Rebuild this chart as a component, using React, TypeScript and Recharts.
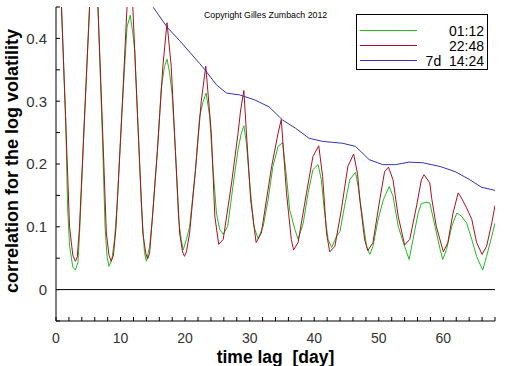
import React from 'react';
import { LineChart, Line, XAxis, YAxis, ReferenceLine } from 'recharts';

const greenLag = [0.3, 0.85, 1.5, 1.8, 2.1, 2.6, 3.0, 3.4, 3.7, 4.4, 5.2, 5.8, 6.5, 7.2, 7.6, 7.9, 8.2, 8.65, 9.07, 9.5, 10.2, 11.0, 11.5, 11.9, 12.2, 12.7, 13.2, 13.7, 14.0, 14.5, 14.9, 15.7, 16.3, 16.8, 17.2, 17.6, 18.0, 18.5, 19.0, 19.4, 19.7, 20.2, 20.7, 21.6, 22.25, 22.8, 23.25, 23.8, 24.3, 24.85, 25.35, 25.9, 26.6, 27.4, 28.2, 28.7, 29.1, 29.5, 30.0, 30.65, 31.3, 32.1, 32.85, 33.6, 34.4, 35.1, 35.7, 36.2, 37.0, 37.5, 38.3, 39.05, 39.8, 40.6, 41.1, 41.6, 42.15, 42.7, 43.45, 44.0, 44.7, 45.5, 46.4, 46.8, 47.6, 48.1, 48.6, 49.1, 49.9, 50.7, 51.6, 52.2, 53.0, 53.8, 54.7, 55.3, 56.1, 56.6, 57.3, 57.9, 58.7, 59.5, 59.9, 60.5, 61.3, 62.1, 62.8, 63.6, 64.4, 65.15, 66.1, 66.7, 67.5, 68.0];
const greenVal = [0.62, 0.45, 0.27, 0.13, 0.07, 0.036, 0.031, 0.043, 0.10, 0.27, 0.45, 0.53, 0.45, 0.24, 0.10, 0.053, 0.037, 0.048, 0.08, 0.14, 0.28, 0.418, 0.437, 0.408, 0.38, 0.26, 0.14, 0.059, 0.045, 0.069, 0.11, 0.22, 0.32, 0.355, 0.367, 0.345, 0.31, 0.22, 0.11, 0.08, 0.063, 0.08, 0.10, 0.19, 0.276, 0.30, 0.313, 0.276, 0.196, 0.122, 0.096, 0.088, 0.101, 0.164, 0.223, 0.249, 0.261, 0.233, 0.17, 0.101, 0.081, 0.101, 0.143, 0.196, 0.228, 0.234, 0.18, 0.127, 0.096, 0.08, 0.106, 0.154, 0.191, 0.199, 0.175, 0.122, 0.08, 0.067, 0.085, 0.093, 0.133, 0.175, 0.187, 0.164, 0.106, 0.069, 0.056, 0.069, 0.112, 0.143, 0.164, 0.149, 0.101, 0.075, 0.048, 0.08, 0.122, 0.137, 0.139, 0.138, 0.101, 0.064, 0.048, 0.064, 0.101, 0.122, 0.117, 0.106, 0.08, 0.053, 0.031, 0.053, 0.085, 0.106];

const redLag = [0.3, 0.85, 1.5, 2.1, 2.6, 3.0, 3.3, 3.64, 4.4, 5.2, 5.85, 6.5, 7.2, 7.8, 8.2, 8.55, 8.9, 9.3, 10.2, 11.0, 11.45, 11.9, 12.7, 13.45, 13.9, 14.2, 14.5, 14.75, 15.7, 16.55, 17.2, 17.85, 18.5, 19.15, 19.6, 19.9, 20.2, 20.7, 21.6, 22.5, 23.2, 24.06, 24.6, 25.2, 25.9, 27.2, 28.2, 28.6, 29.1, 29.5, 30.15, 31.0, 31.8, 33.4, 34.4, 34.9, 35.7, 36.45, 36.8, 37.5, 38.8, 39.8, 40.7, 41.3, 41.9, 42.4, 43.2, 44.2, 45.2, 46.1, 46.7, 47.1, 47.8, 48.3, 49.1, 50.15, 50.9, 51.5, 52.2, 53.0, 54.0, 54.8, 55.85, 56.6, 57.0, 57.9, 58.2, 58.9, 60.0, 60.7, 61.5, 62.3, 62.8, 63.6, 64.4, 65.15, 66.0, 66.7, 67.5, 68.0];
const redVal = [0.62, 0.45, 0.27, 0.10, 0.055, 0.045, 0.052, 0.10, 0.27, 0.45, 0.56, 0.45, 0.26, 0.09, 0.055, 0.045, 0.055, 0.10, 0.28, 0.45, 0.49, 0.45, 0.26, 0.09, 0.058, 0.049, 0.058, 0.09, 0.22, 0.355, 0.425, 0.355, 0.22, 0.09, 0.06, 0.053, 0.06, 0.09, 0.19, 0.30, 0.356, 0.249, 0.117, 0.072, 0.08, 0.17, 0.249, 0.286, 0.317, 0.249, 0.143, 0.075, 0.09, 0.196, 0.249, 0.271, 0.154, 0.08, 0.063, 0.075, 0.154, 0.212, 0.229, 0.18, 0.09, 0.06, 0.069, 0.127, 0.196, 0.216, 0.185, 0.14, 0.08, 0.062, 0.075, 0.143, 0.188, 0.195, 0.175, 0.117, 0.071, 0.08, 0.133, 0.175, 0.183, 0.17, 0.145, 0.101, 0.06, 0.075, 0.122, 0.154, 0.146, 0.13, 0.112, 0.075, 0.056, 0.069, 0.106, 0.134];

const blueLag = [14.3, 15.1, 17.2, 19.1, 22.25, 23.0, 24.85, 26.4, 28.45, 30.8, 33.0, 35.1, 37.1, 39.2, 41.3, 44.4, 46.4, 48.5, 50.6, 52.6, 54.7, 56.8, 59.5, 61.8, 64.1, 65.9, 68.0];
const blueVal = [0.462, 0.449, 0.418, 0.397, 0.36, 0.351, 0.326, 0.313, 0.31, 0.302, 0.291, 0.27, 0.257, 0.241, 0.236, 0.233, 0.228, 0.207, 0.199, 0.199, 0.203, 0.202, 0.196, 0.188, 0.175, 0.163, 0.158];

const seriesNames = ['01:12', '22:48', '7d\u00a0\u00a014:24'];
const seriesColors = ['#22bb22', '#aa1122', '#3333bb'];

const xTicks = [0, 2, 4, 6, 8, 10, 12, 14, 16, 18, 20, 22, 24, 26, 28, 30, 32, 34, 36, 38, 40, 42, 44, 46, 48, 50, 52, 54, 56, 58, 60, 62, 64, 66, 68];
const xLabelTicks = [0, 10, 20, 30, 40, 50, 60];
const yTicks = [-0.05, 0, 0.05, 0.1, 0.15, 0.2, 0.25, 0.3, 0.35, 0.4, 0.45];
const yLabelTicks = [0, 0.1, 0.2, 0.3, 0.4];

const toPoints = (lags: number[], vals: number[]) => lags.map((x, i) => ({ x, y: vals[i] }));
const greenData = toPoints(greenLag, greenVal);
const redData = toPoints(redLag, redVal);
const blueData = toPoints(blueLag, blueVal);
const allData = [greenData, redData, blueData];

const FONT = '"Liberation Sans", Arial, sans-serif';

export default function App() {
  return (
    <div style={{ position: 'absolute', left: 0, top: 0, width: 512, height: 366, background: '#fff', fontFamily: FONT }}>
      <LineChart width={512} height={366} margin={{ top: 7, right: 17, bottom: 0, left: 0 }}>
        <XAxis
          type="number"
          dataKey="x"
          domain={[0, 68]}
          ticks={xTicks}
          interval={0}
          tickSize={-4}
          tickMargin={16}
          height={45}
          stroke="#000"
          tick={{ fill: '#333', fontSize: 14, fontFamily: FONT }}
          tickFormatter={(v: number) => (xLabelTicks.includes(v) ? String(v) : '')}
          allowDataOverflow
          label={{
            content: (p: any) => {
              const vb = p.viewBox || {};
              return (
                <text x={vb.x + vb.width / 2} y={vb.y + 42} textAnchor="middle" fontSize={17.5} fontWeight="bold" fontFamily={FONT} fill="#000">
                  {'time lag\u00a0\u00a0[day]'}
                </text>
              );
            },
          }}
        />
        <YAxis
          type="number"
          domain={[-0.05, 0.45]}
          ticks={yTicks}
          interval={0}
          width={56}
          tickSize={-4}
          tickMargin={13}
          stroke="#000"
          allowDataOverflow
          tick={{ fill: '#333', fontSize: 15, fontFamily: FONT }}
          tickFormatter={(v: number) => {
            const r = Math.round(v * 100) / 100;
            return yLabelTicks.some((t) => Math.abs(t - r) < 1e-9) ? (r === 0 ? '0' : String(r)) : '';
          }}
          label={{
            content: (p: any) => {
              const vb = p.viewBox || {};
              const cx = 12;
              const cy = vb.y + vb.height / 2 - 3;
              return (
                <text x={cx} y={cy} transform={`rotate(-90, ${cx}, ${cy})`} textAnchor="middle" dominantBaseline="central" fontSize={18} fontWeight="bold" fontFamily={FONT} fill="#000">
                  correlation for the log volatility
                </text>
              );
            },
          }}
        />
        <ReferenceLine y={0} stroke="#000" strokeWidth={1} />
        {allData.map((d, i) => (
          <Line
            key={seriesNames[i]}
            data={d}
            dataKey="y"
            name={seriesNames[i]}
            type="linear"
            stroke={seriesColors[i]}
            strokeWidth={1}
            dot={false}
            activeDot={false}
            isAnimationActive={false}
          />
        ))}
      </LineChart>
      <div style={{ position: 'absolute', left: 204, top: 10, fontSize: 8.8, fontFamily: FONT, color: '#000', whiteSpace: 'nowrap' }}>
        Copyright Gilles Zumbach 2012
      </div>
      <svg width={512} height={366} style={{ position: 'absolute', left: 0, top: 0, pointerEvents: 'none' }}>
        <rect x={356.5} y={14.5} width={131} height={55} fill="#fff" stroke="#000" strokeWidth={1} />
        {seriesNames.map((n, i) => (
          <g key={n}>
            <line x1={360} x2={417} y1={30.5 + i * 15} y2={30.5 + i * 15} stroke={seriesColors[i]} strokeWidth={1} />
            <text x={484} y={30.5 + i * 15} textAnchor="end" dominantBaseline="central" fontSize={14} fontFamily={FONT} fill="#000">
              {n}
            </text>
          </g>
        ))}
      </svg>
    </div>
  );
}
